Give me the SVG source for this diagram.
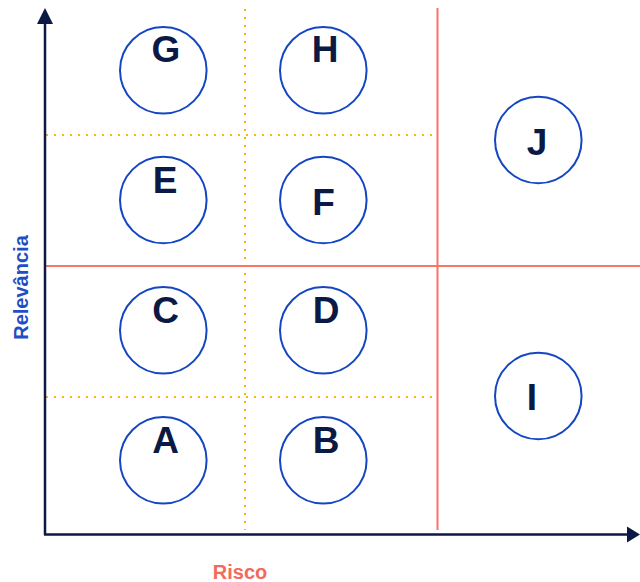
<svg xmlns="http://www.w3.org/2000/svg" width="640" height="582" viewBox="0 0 640 582">
<defs>
<style>
.node circle{fill:#fff;stroke:#1446c4;stroke-width:2}
.node text{font-family:"Liberation Sans",Arial,sans-serif;font-weight:bold;font-size:37px;fill:#0b1a45;text-anchor:middle}
.axis{stroke:#0b1a45;stroke-width:2.5;fill:none}
.red{stroke:#fa7468;stroke-width:2;fill:none}
.dot{stroke:#f5b70f;stroke-width:2;stroke-dasharray:2 6;fill:none}
.lbl{font-family:"Liberation Sans",Arial,sans-serif;font-weight:bold;font-size:20px;text-anchor:middle}
</style>
</defs>
<rect width="640" height="582" fill="#fff"/>
<g id="grid">
<line class="dot" x1="245" y1="9" x2="245" y2="530"/>
<line class="dot" x1="46" y1="135" x2="432" y2="135"/>
<line class="dot" x1="46" y1="397" x2="432" y2="397"/>
<line class="red" x1="437.5" y1="8" x2="437.5" y2="530"/>
<line class="red" x1="45" y1="266" x2="640" y2="266"/>
</g>
<g id="connectors">
<line class="axis" x1="45" y1="535" x2="45" y2="22"/>
<polygon points="45,8 37,24 53,24" fill="#0b1a45"/>
<line class="axis" x1="44" y1="534.5" x2="630" y2="534.5"/>
<polygon points="640,534.5 627,526.5 627,542.5" fill="#0b1a45"/>
</g>
<g id="node-G" class="node"><circle cx="163.3" cy="70.3" r="43.3"/><text x="166" y="62">G</text></g>
<g id="node-H" class="node"><circle cx="323.3" cy="70.3" r="43.3"/><text x="325" y="62">H</text></g>
<g id="node-J" class="node"><circle cx="538.3" cy="140" r="43.3"/><text x="537" y="155">J</text></g>
<g id="node-E" class="node"><circle cx="163.3" cy="200" r="43.3"/><text x="165" y="193">E</text></g>
<g id="node-F" class="node"><circle cx="323.3" cy="200" r="43.3"/><text x="323.5" y="215">F</text></g>
<g id="node-C" class="node"><circle cx="163.3" cy="330.3" r="43.3"/><text x="165.5" y="323">C</text></g>
<g id="node-D" class="node"><circle cx="323.3" cy="330.3" r="43.3"/><text x="326" y="323">D</text></g>
<g id="node-I" class="node"><circle cx="538.3" cy="396" r="43.3"/><text x="532" y="410">I</text></g>
<g id="node-A" class="node"><circle cx="163.3" cy="460.3" r="43.3"/><text x="165.5" y="453">A</text></g>
<g id="node-B" class="node"><circle cx="323.3" cy="460.3" r="43.3"/><text x="326" y="453">B</text></g>
<text class="lbl" x="240" y="578.5" fill="#f26a5b">Risco</text>
<text class="lbl" transform="translate(28 287.5) rotate(-90)" fill="#1f4fc4">Relevância</text>
</svg>
